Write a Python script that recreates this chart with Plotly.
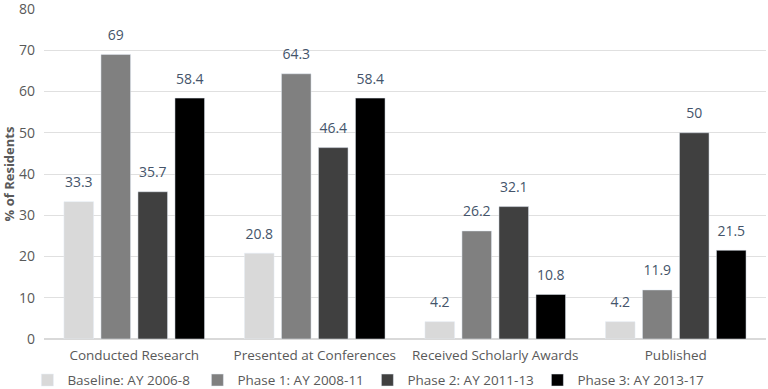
import plotly.graph_objects as go

categories = ["Conducted Research", "Presented at Conferences", "Received Scholarly Awards", "Published"]
series_names = ["Baseline: AY 2006-8", "Phase 1: AY 2008-11", "Phase 2: AY 2011-13", "Phase 3: AY 2013-17"]
baseline = [33.3, 20.8, 4.2, 4.2]
phase1 = [69, 64.3, 26.2, 11.9]
phase2 = [35.7, 46.4, 32.1, 50]
phase3 = [58.4, 58.4, 10.8, 21.5]
y_ticks = [0, 10, 20, 30, 40, 50, 60, 70, 80]

colors = ["#d9d9d9", "#808080", "#404040", "#000000"]
values = [baseline, phase1, phase2, phase3]

fig = go.Figure()
for i, (name, vals, c) in enumerate(zip(series_names, values, colors)):
    fig.add_trace(go.Bar(
        x=categories, y=vals, name=name, marker_color=c,
        offsetgroup=str(i),
    ))
for i, (name, vals) in enumerate(zip(series_names, values)):
    fig.add_trace(go.Scatter(
        x=categories, y=vals, mode="markers+text", offsetgroup=str(i),
        text=[str(v) for v in vals], textposition="top center",
        marker=dict(size=16, color="rgba(0,0,0,0)"),
        textfont=dict(family="Open Sans", size=14, color="#44546a"),
        showlegend=False, hoverinfo="skip", cliponaxis=False,
    ))

fig.update_layout(
    width=768, height=389,
    margin=dict(l=44, r=2, t=9, b=50, autoexpand=False),
    paper_bgcolor="white", plot_bgcolor="white",
    barmode="group", bargap=0.18, bargroupgap=0.2,
    scattermode="group", scattergap=0.18,
    font=dict(family="Open Sans", color="#595959"),
    legend=dict(orientation="h", x=-0.023, xanchor="left", y=-0.172, yanchor="bottom",
                font=dict(size=13.5, color="#595959"), itemwidth=30,
                entrywidth=125, entrywidthmode="pixels", bgcolor="rgba(0,0,0,0)",
                traceorder="normal"),
    showlegend=True,
)
fig.update_yaxes(range=[0, 80], tickvals=y_ticks, showgrid=True, gridcolor="#e0e0e0",
                 gridwidth=1, zeroline=True, zerolinecolor="#d9d9d9",
                 tickfont=dict(size=14, color="#595959"), ticks="", ticklabelstandoff=8,
                 ticklabeloverflow="allow", automargin=False,
                 title=dict(text="<b>% of Residents</b>", font=dict(size=13, color="#595959")))
fig.update_xaxes(tickfont=dict(size=13.5, color="#595959"), showline=False, ticks="",
                 ticklabelstandoff=6, automargin=False)
fig.write_html("out.html", config={"displayModeBar": False},
               post_script="document.body.style.margin='0';document.body.style.overflow='hidden';")
